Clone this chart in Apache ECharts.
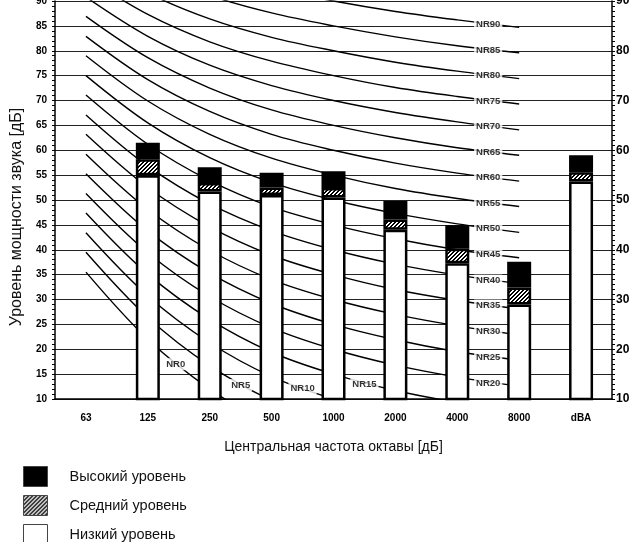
<!DOCTYPE html>
<html>
<head>
    <meta charset="utf-8">
    <script src="https://cdn.jsdelivr.net/npm/echarts@6/dist/echarts.min.js"></script>
    <style>
        html, body { margin: 0; padding: 0; background: #fff; }
    </style>
</head>
<body>
    <div id="main" style="width: 632px;height:542px;"></div>
    <script type="text/javascript">

    // octave bands
    var categories = ['63', '125', '250', '500', '1000', '2000', '4000', '8000', 'dBA'];

    // tops of each stacked level (null = no bar)
    var lowTop  = [null, 55.0, 51.7, 51.0, 50.5, 44.0, 37.3, 29.0, 53.7];
    var midTop  = [null, 58.2, 53.4, 52.5, 52.4, 46.1, 40.2, 32.4, 55.6];
    var highTop = [null, 61.5, 56.6, 55.5, 55.8, 49.8, 44.9, 37.6, 59.0];

    // NR curves, values at 63 ... 8000 Hz
    var nrNames = ['NR0', 'NR5', 'NR10', 'NR15', 'NR20', 'NR25', 'NR30', 'NR35', 'NR40',
        'NR45', 'NR50', 'NR55', 'NR60', 'NR65', 'NR70', 'NR75', 'NR80', 'NR85', 'NR90'];
    var nrValues = [
        [35.5, 22.0, 12.0, 4.8, 0, -3.5, -6.1, -8.0],
        [39.5, 26.4, 16.7, 9.7, 5, 1.6, -1.0, -2.9],
        [43.4, 30.7, 21.3, 14.5, 10, 6.7, 4.2, 2.3],
        [47.4, 35.1, 26.0, 19.4, 15, 11.7, 9.3, 7.5],
        [51.3, 39.4, 30.6, 24.3, 20, 16.8, 14.4, 12.6],
        [55.3, 43.8, 35.3, 29.2, 25, 21.9, 19.5, 17.8],
        [59.2, 48.1, 39.9, 34.0, 30, 27.0, 24.7, 22.9],
        [63.2, 52.5, 44.6, 38.9, 35, 32.0, 29.8, 28.1],
        [67.1, 56.8, 49.2, 43.8, 40, 37.1, 34.9, 33.2],
        [71.1, 61.2, 53.9, 48.6, 45, 42.2, 40.0, 38.4],
        [75.0, 65.5, 58.5, 53.5, 50, 47.3, 45.2, 43.5],
        [79.0, 69.9, 63.2, 58.4, 55, 52.3, 50.3, 48.7],
        [82.9, 74.2, 67.8, 63.2, 60, 57.4, 55.4, 53.8],
        [86.9, 78.6, 72.5, 68.1, 65, 62.5, 60.5, 59.0],
        [90.8, 82.9, 77.1, 73.0, 70, 67.6, 65.7, 64.1],
        [94.8, 87.3, 81.8, 77.9, 75, 72.6, 70.8, 69.3],
        [98.7, 91.6, 86.4, 82.7, 80, 77.7, 75.9, 74.4],
        [102.7, 96.0, 91.1, 87.6, 85, 82.8, 81.0, 79.6],
        [106.6, 100.3, 95.7, 92.5, 90, 87.9, 86.2, 84.7]
    ];
    // where the NR labels sit (band index, dB)
    var nrLabelPos = [
        [1.45, 17.0], [2.5, 12.8], [3.5, 12.2], [4.5, 13.0],
        [6.5, 13.2], [6.5, 18.3], [6.5, 23.6], [6.5, 28.8], [6.5, 33.8],
        [6.5, 39.0], [6.5, 44.2], [6.5, 49.3], [6.5, 54.5], [6.5, 59.6],
        [6.5, 64.7], [6.5, 69.9], [6.5, 75.0], [6.5, 80.1], [6.5, 85.3]
    ];

    var legendNames = ['Высокий уровень', 'Средний уровень', 'Низкий уровень'];

    // crisp "////" hatch for the middle level
    var hatch = document.createElement('canvas');
    hatch.width = 4;
    hatch.height = 4;
    var hctx = hatch.getContext('2d');
    hctx.fillStyle = '#fff';
    hctx.fillRect(0, 0, 4, 4);
    hctx.fillStyle = '#000';
    for (var px = 0; px < 4; px++) {
        for (var py = 0; py < 4; py++) {
            if ((px + py) % 4 < 2) hctx.fillRect(px, py, 1, 1);
        }
    }

    function diff(a, b) {
        return a.map(function (v, i) {
            return v == null ? null : +(v - b[i]).toFixed(2);
        });
    }

    var font = 'Liberation Sans, Arial, sans-serif';
    var series = [];

    nrValues.forEach(function (vals, k) {
        series.push({
            name: nrNames[k],
            type: 'line',
            xAxisIndex: 1,
            yAxisIndex: 0,
            smooth: 0.35,
            symbol: 'none',
            silent: true,
            z: 1,
            lineStyle: { color: '#000', width: 1.4 },
            data: vals.map(function (v, i) { return [i, v]; })
        });
    });

    series.push({
        name: 'nrLabels',
        type: 'scatter',
        xAxisIndex: 1,
        yAxisIndex: 0,
        symbolSize: 0,
        silent: true,
        z: 3,
        label: {
            show: true,
            position: 'inside',
            formatter: '{b}',
            color: '#000',
            fontFamily: font,
            fontWeight: 'bold',
            fontSize: 9.5,
            backgroundColor: '#fff',
            padding: [1, 2]
        },
        data: nrLabelPos.map(function (p, k) {
            return { name: nrNames[k], value: p };
        })
    });

    var barBase = {
        type: 'bar',
        stack: 'level',
        xAxisIndex: 0,
        yAxisIndex: 0,
        barWidth: 24,
        z: 5,
        silent: true
    };
    series.push(Object.assign({}, barBase, {
        name: legendNames[2],
        itemStyle: { color: '#fff', borderColor: '#000', borderWidth: 2.5 },
        data: lowTop
    }));
    series.push(Object.assign({}, barBase, {
        name: legendNames[1],
        itemStyle: { color: { image: hatch, repeat: 'repeat' }, borderColor: '#000', borderWidth: 2.5 },
        data: diff(midTop, lowTop)
    }));
    series.push(Object.assign({}, barBase, {
        name: legendNames[0],
        itemStyle: { color: '#000', borderColor: '#000', borderWidth: 2.5 },
        data: diff(highTop, midTop)
    }));

    var myChart = echarts.init(document.getElementById('main'));

    myChart.setOption({
        animation: false,
        backgroundColor: '#fff',
        textStyle: { fontFamily: font },
        grid: { left: 55, right: 20, top: 1, bottom: 143, containLabel: false, outerBoundsMode: 'none' },
        legend: {
            data: legendNames,
            orient: 'vertical',
            left: 23,
            top: 466,
            height: 120,
            padding: 0,
            itemWidth: 24,
            itemHeight: 20,
            itemGap: 8,
            icon: 'rect',
            selectedMode: false,
            itemStyle: { borderWidth: 1, borderColor: '#444' },
            textStyle: { fontSize: 14.5, color: '#111', fontFamily: font, padding: [0, 0, 6, 17] }
        },
        xAxis: [{
            type: 'category',
            data: categories,
            boundaryGap: true,
            axisLine: { lineStyle: { color: '#000', width: 1.5 } },
            axisTick: { show: false },
            axisLabel: { color: '#000', fontWeight: 'bold', fontSize: 10, margin: 14 },
            name: 'Центральная частота октавы [дБ]',
            nameLocation: 'middle',
            nameGap: 41,
            nameTextStyle: { fontSize: 14, color: '#111' }
        }, {
            type: 'value',
            min: -0.5,
            max: 8.5,
            show: false
        }],
        yAxis: [{
            type: 'value',
            position: 'left',
            min: 10,
            max: 90,
            interval: 5,
            axisLine: { show: true, onZero: false, lineStyle: { color: '#000', width: 1.5 } },
            axisTick: { show: true, length: 3, lineStyle: { color: '#000' } },
            minorTick: { show: true, splitNumber: 5, length: 3, lineStyle: { color: '#000' } },
            splitLine: { show: true, lineStyle: { color: '#222', width: 1 } },
            axisLabel: { color: '#000', fontWeight: 'bold', fontSize: 10, margin: 8 },
            name: 'Уровень мощности звука [дБ]',
            nameLocation: 'middle',
            nameGap: 28,
            nameRotate: 90,
            nameTextStyle: { fontSize: 16, color: '#111', padding: [0, 34, 0, 0] }
        }, {
            type: 'value',
            position: 'right',
            min: 10,
            max: 90,
            interval: 10,
            axisLine: { show: true, onZero: false, lineStyle: { color: '#000', width: 1.5 } },
            axisTick: { show: true, length: 3, lineStyle: { color: '#000' } },
            minorTick: { show: true, splitNumber: 10, length: 3, lineStyle: { color: '#000' } },
            splitLine: { show: false },
            axisLabel: { color: '#000', fontWeight: 'bold', fontSize: 12, margin: 4 }
        }],
        series: series
    });
    </script>
</body>
</html>
